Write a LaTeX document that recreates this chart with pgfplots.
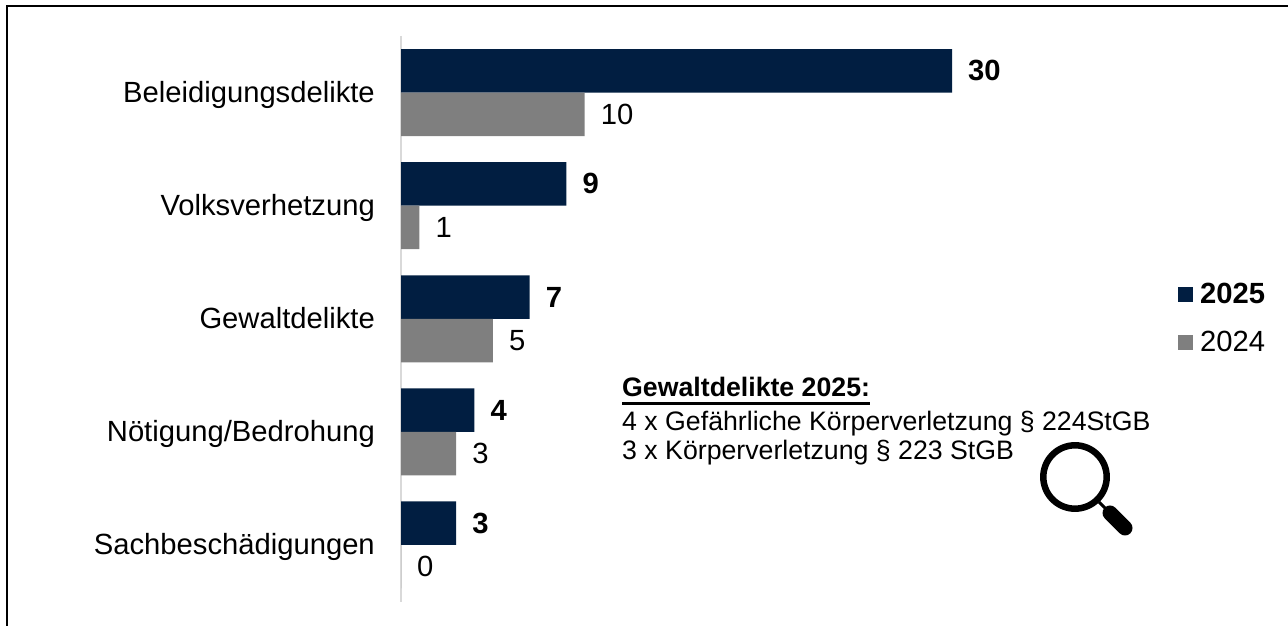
\documentclass[border=0pt]{standalone}
\usepackage{pgfplots}
\pgfplotsset{compat=1.18}
\usepackage{fontspec}
\setmainfont{Liberation Sans}
\definecolor{navy}{HTML}{011E41}
\definecolor{gr}{HTML}{7F7F7F}
\definecolor{axl}{HTML}{D9D9D9}
\begin{document}
\begin{tikzpicture}[x=1pt,y=1pt]
\path[use as bounding box] (0,0) rectangle (1288,626);
\fontsize{29.2}{35}\selectfont
\draw[black,line width=2pt] (6.5,-5) -- (6.5,619.5) -- (1293,619.5);
\begin{axis}[
  at={(401pt,24.5pt)},anchor=south west,
  scale only axis,width=551pt,height=565.5pt,
  xmin=0,xmax=30,ymin=-0.5,ymax=4.5,y dir=reverse,
  clip=false,
  axis x line=none,
  axis y line*=left,
  y axis line style={draw=axl,line width=1.5pt,-},
  ytick={0,1,2,3,4},
  yticklabels={Beleidigungsdelikte,Volksverhetzung,Gewaltdelikte,Nötigung/Bedrohung,Sachbeschädigungen},
  major tick length=0pt,
  yticklabel style={font=\fontsize{29.2}{35}\selectfont,inner sep=0pt,xshift=-26pt,text height=25pt,text depth=6pt},
  /pgf/number format/assume math mode=true,
  xbar,
  bar width=43.5pt,
  nodes near coords,
  point meta=x,
]
\addplot[fill=navy,draw=none,bar shift=21.75pt,
  nodes near coords style={font=\fontsize{29.2}{35}\selectfont\bfseries,anchor=west,inner sep=0pt,xshift=16pt,text=black}]
  coordinates {(30,0) (9,1) (7,2) (4,3) (3,4)};
\addplot[fill=gr,draw=none,bar shift=-21.75pt,
  nodes near coords style={font=\fontsize{29.2}{35}\selectfont,anchor=west,inner sep=0pt,xshift=16pt,text=black}]
  coordinates {(10,0) (1,1) (5,2) (3,3) (0,4)};
\end{axis}
% legend
\fill[navy] (1178,324) rectangle (1193,339);
\node[anchor=west,inner sep=0pt] at (1200,333) {\bfseries 2025};
\fill[gr] (1178,276) rectangle (1193,291);
\node[anchor=west,inner sep=0pt] at (1200,284.5) {2024};
% annotation
\node[anchor=base west,inner sep=0pt,font=\fontsize{26.7}{32}\selectfont] at (622,229) {\bfseries Gewaltdelikte 2025:};
\fill[black] (622,221) rectangle (870,224);
\node[anchor=base west,inner sep=0pt,font=\fontsize{26.7}{32}\selectfont] at (622,195) {4 x Gefährliche Körperverletzung § 224StGB};
\node[anchor=base west,inner sep=0pt,font=\fontsize{26.7}{32}\selectfont] at (622,166) {3 x Körperverletzung § 223 StGB};
% magnifier
\draw[black,line width=6.5pt] (1075,149) circle (31.7);
\draw[black,line width=3pt] (1099,124) -- (1108,115);
\draw[black,line width=15pt,line cap=round] (1110,113) -- (1125,98);
\end{tikzpicture}
\end{document}
